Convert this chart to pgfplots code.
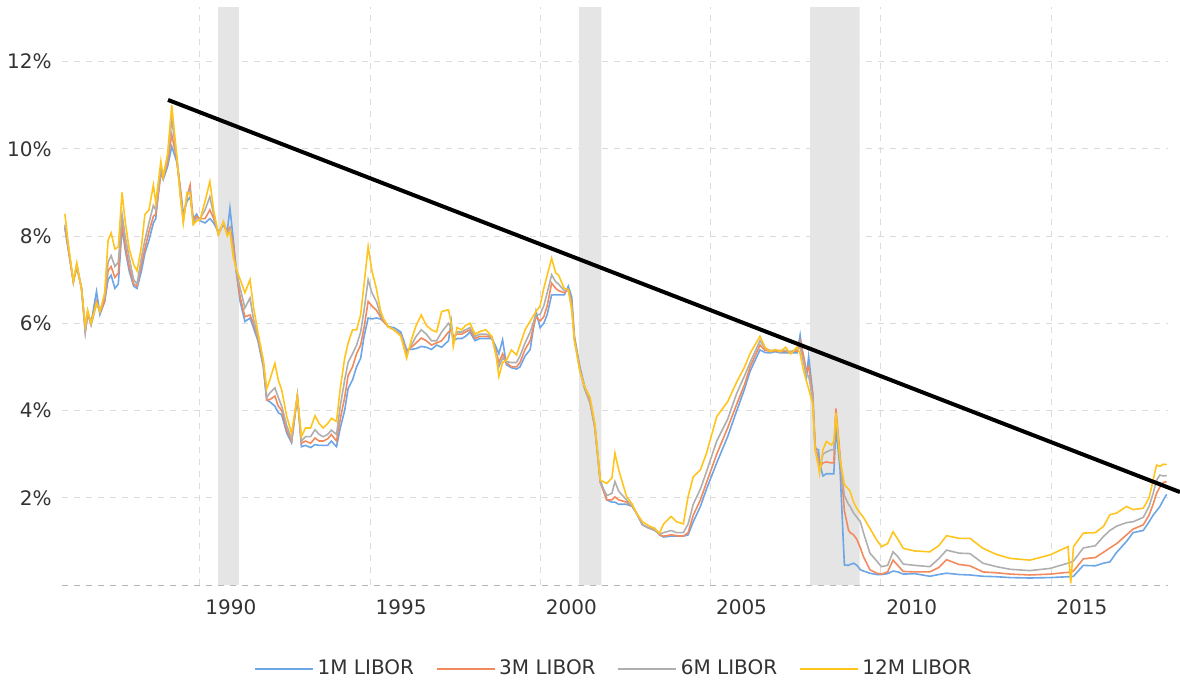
\documentclass[border=0pt]{standalone}
\usepackage{fontspec}
\setmainfont{DejaVu Sans}
\usepackage{pgfplots}
\usepackage{pgfplotstable}
\pgfplotsset{compat=1.18}
\definecolor{cA}{HTML}{6CA6E6}
\definecolor{cB}{HTML}{F28A5E}
\definecolor{cC}{HTML}{AFAFAF}
\definecolor{cD}{HTML}{FFC51E}
\definecolor{txt}{HTML}{333333}
\pgfplotstableread{
yr m1 m3 m6 m12
1986.03 8.2 8.2 8.26 8.51
1986.15 7.6 7.6 7.65 7.7
1986.28 6.95 6.95 6.95 6.96
1986.38 7.3 7.3 7.35 7.38
1986.52 6.8 6.8 6.8 6.77
1986.63 5.85 5.8 5.8 5.95
1986.70 6.25 6.2 6.25 6.3
1986.80 6.0 6.0 5.95 6.0
1986.96 6.73 6.5 6.45 6.46
1987.06 6.2 6.25 6.27 6.27
1987.20 6.5 6.5 6.6 6.7
1987.30 7.0 7.2 7.4 7.9
1987.39 7.1 7.3 7.55 8.07
1987.50 6.8 7.05 7.3 7.7
1987.60 6.9 7.15 7.4 7.75
1987.71 8.2 8.3 8.5 9.0
1987.80 7.7 7.8 8.0 8.35
1987.92 7.2 7.3 7.5 7.7
1988.05 6.85 6.9 7.0 7.35
1988.15 6.8 6.85 6.9 7.2
1988.28 7.2 7.35 7.5 7.76
1988.38 7.6 7.7 7.9 8.49
1988.50 7.9 8.1 8.3 8.6
1988.63 8.3 8.45 8.7 9.17
1988.70 8.4 8.5 8.6 8.76
1988.85 9.56 9.4 9.5 9.71
1988.92 9.3 9.35 9.4 9.35
1989.05 9.6 9.7 9.8 9.9
1989.17 10.05 10.32 10.67 11.0
1989.32 9.7 9.75 9.8 9.82
1989.42 9.1 9.1 9.0 8.9
1989.51 8.5 8.4 8.35 8.3
1989.62 8.8 8.9 8.95 9.0
1989.71 8.9 9.17 9.05 8.98
1989.80 8.4 8.35 8.3 8.26
1989.90 8.5 8.45 8.4 8.35
1990.00 8.35 8.4 8.4 8.37
1990.15 8.3 8.4 8.6 8.8
1990.29 8.4 8.6 8.9 9.25
1990.40 8.3 8.4 8.5 8.6
1990.54 8.1 8.05 8.03 8.03
1990.69 8.25 8.3 8.3 8.33
1990.80 8.1 8.1 8.05 8.0
1990.88 8.64 8.2 8.15 8.1
1990.98 7.9 7.8 7.6 7.5
1991.08 7.1 7.1 7.15 7.22
1991.18 6.5 6.6 6.8 7.0
1991.32 6.04 6.15 6.35 6.7
1991.47 6.12 6.19 6.58 7.0
1991.57 5.9 6.0 6.1 6.38
1991.70 5.6 5.65 5.7 5.8
1991.86 5.0 5.05 5.1 5.16
1991.96 4.24 4.24 4.3 4.5
1992.05 4.2 4.25 4.4 4.7
1992.20 4.1 4.33 4.52 5.08
1992.30 3.95 4.1 4.3 4.7
1992.40 3.9 4.0 4.1 4.47
1992.55 3.48 3.55 3.65 3.86
1992.69 3.26 3.3 3.35 3.48
1992.86 4.33 4.33 4.33 4.33
1992.98 3.17 3.25 3.3 3.4
1993.10 3.2 3.3 3.4 3.6
1993.25 3.15 3.25 3.4 3.6
1993.38 3.22 3.37 3.56 3.88
1993.50 3.2 3.3 3.45 3.7
1993.62 3.2 3.3 3.4 3.6
1993.75 3.2 3.35 3.45 3.7
1993.86 3.3 3.45 3.55 3.82
1994.01 3.17 3.3 3.45 3.75
1994.12 3.6 3.8 4.1 4.5
1994.25 4.0 4.3 4.7 5.2
1994.35 4.5 4.8 5.1 5.54
1994.48 4.7 5.0 5.3 5.85
1994.60 5.0 5.3 5.5 5.85
1994.72 5.2 5.5 5.8 6.2
1994.82 5.7 5.9 6.3 6.9
1994.94 6.12 6.5 7.0 7.76
1995.05 6.1 6.4 6.7 7.2
1995.18 6.12 6.3 6.5 6.8
1995.30 6.1 6.15 6.2 6.3
1995.38 6.05 6.05 6.1 6.12
1995.53 5.92 5.92 5.92 5.92
1995.70 5.9 5.85 5.85 5.85
1995.90 5.8 5.75 5.75 5.7
1996.07 5.4 5.35 5.3 5.2
1996.21 5.4 5.45 5.5 5.62
1996.35 5.42 5.55 5.7 5.95
1996.50 5.47 5.66 5.85 6.19
1996.65 5.45 5.6 5.75 5.95
1996.80 5.4 5.5 5.6 5.85
1996.95 5.5 5.55 5.6 5.8
1997.10 5.45 5.6 5.8 6.27
1997.30 5.6 5.8 6.0 6.31
1997.38 6.04 5.85 5.9 6.0
1997.44 5.6 5.7 5.6 5.47
1997.55 5.65 5.75 5.8 5.9
1997.69 5.65 5.75 5.8 5.85
1997.80 5.7 5.8 5.85 5.95
1997.93 5.8 5.85 5.9 6.0
1998.08 5.6 5.65 5.7 5.75
1998.22 5.65 5.7 5.75 5.81
1998.40 5.65 5.7 5.75 5.85
1998.57 5.65 5.68 5.7 5.7
1998.70 5.45 5.35 5.3 5.24
1998.78 5.3 5.1 5.0 4.78
1998.89 5.62 5.3 5.2 5.1
1999.00 5.05 5.1 5.12 5.15
1999.15 4.98 5.0 5.1 5.39
1999.30 4.95 5.0 5.1 5.27
1999.40 5.0 5.1 5.25 5.5
1999.55 5.25 5.4 5.55 5.85
1999.70 5.4 5.6 5.8 6.05
1999.87 6.27 6.15 6.2 6.27
1999.99 5.9 6.05 6.2 6.4
2000.10 6.0 6.15 6.4 6.8
2000.20 6.2 6.4 6.7 7.1
2000.33 6.65 6.92 7.11 7.49
2000.45 6.65 6.8 6.95 7.15
2000.53 6.65 6.75 6.9 7.11
2000.70 6.65 6.7 6.75 6.8
2000.82 6.85 6.77 6.77 6.77
2000.92 6.6 6.5 6.4 6.3
2001.00 5.7 5.65 5.62 5.6
2001.16 5.0 4.95 4.93 4.9
2001.30 4.55 4.5 4.5 4.55
2001.46 4.2 4.17 4.2 4.3
2001.60 3.65 3.6 3.6 3.7
2001.76 2.4 2.35 2.35 2.4
2001.95 1.95 1.95 2.05 2.33
2002.10 1.9 1.95 2.1 2.45
2002.19 1.9 2.02 2.37 3.02
2002.30 1.85 1.95 2.15 2.64
2002.53 1.85 1.9 1.95 2.03
2002.70 1.8 1.8 1.8 1.85
2002.82 1.65 1.65 1.65 1.65
2003.00 1.38 1.38 1.38 1.45
2003.20 1.3 1.3 1.3 1.35
2003.35 1.3 1.28 1.25 1.3
2003.50 1.15 1.15 1.17 1.19
2003.62 1.1 1.12 1.2 1.4
2003.84 1.12 1.15 1.25 1.57
2004.00 1.12 1.13 1.2 1.45
2004.20 1.12 1.12 1.2 1.4
2004.34 1.15 1.2 1.4 2.03
2004.49 1.45 1.6 1.85 2.48
2004.70 1.8 1.95 2.2 2.64
2004.88 2.2 2.35 2.6 3.02
2005.18 2.8 3.0 3.3 3.86
2005.50 3.4 3.6 3.8 4.2
2005.77 4.0 4.15 4.4 4.66
2006.00 4.5 4.6 4.8 5.0
2006.16 4.9 5.0 5.1 5.31
2006.45 5.39 5.5 5.6 5.7
2006.60 5.33 5.38 5.42 5.45
2006.75 5.32 5.36 5.38 5.35
2006.90 5.35 5.36 5.38 5.4
2007.05 5.32 5.35 5.38 5.35
2007.20 5.32 5.35 5.38 5.45
2007.35 5.32 5.35 5.35 5.3
2007.54 5.32 5.36 5.4 5.45
2007.63 5.73 5.6 5.45 5.3
2007.72 5.2 5.3 5.15 4.95
2007.82 4.78 4.9 4.8 4.66
2007.88 5.24 5.0 4.8 4.5
2008.00 4.4 4.35 4.25 4.15
2008.07 3.13 3.2 3.15 3.1
2008.17 3.1 2.9 2.8 2.71
2008.20 2.8 2.7 2.65 2.56
2008.30 2.5 2.8 3.0 3.1
2008.40 2.55 2.82 3.05 3.29
2008.55 2.55 2.8 3.1 3.21
2008.62 2.55 2.8 3.1 3.3
2008.68 3.6 4.05 3.9 3.95
2008.80 2.7 3.0 2.9 2.9
2008.93 0.46 1.7 2.05 2.3
2009.05 0.45 1.26 1.85 2.2
2009.10 0.47 1.2 1.8 2.14
2009.20 0.5 1.15 1.65 1.9
2009.30 0.45 1.04 1.55 1.75
2009.40 0.35 0.85 1.45 1.64
2009.49 0.32 0.65 1.2 1.55
2009.68 0.27 0.35 0.73 1.3
2009.88 0.24 0.27 0.55 1.03
2010.02 0.24 0.25 0.42 0.88
2010.20 0.26 0.3 0.45 0.95
2010.36 0.32 0.57 0.76 1.22
2010.50 0.3 0.45 0.65 1.05
2010.66 0.25 0.31 0.48 0.84
2011.00 0.26 0.3 0.45 0.78
2011.44 0.2 0.3 0.42 0.76
2011.70 0.24 0.4 0.6 0.9
2011.93 0.27 0.58 0.8 1.13
2012.30 0.24 0.47 0.73 1.07
2012.62 0.23 0.44 0.72 1.07
2013.00 0.2 0.3 0.5 0.84
2013.40 0.19 0.28 0.42 0.7
2013.80 0.17 0.25 0.36 0.61
2014.38 0.16 0.23 0.33 0.57
2014.97 0.17 0.25 0.38 0.69
2015.50 0.19 0.29 0.5 0.88
2015.58 0.19 0.3 0.52 0.04
2015.66 0.2 0.32 0.55 0.88
2015.95 0.45 0.6 0.85 1.19
2016.30 0.44 0.63 0.9 1.2
2016.54 0.5 0.75 1.11 1.34
2016.73 0.53 0.85 1.25 1.61
2016.93 0.75 0.95 1.35 1.65
2017.22 1.0 1.15 1.43 1.8
2017.41 1.2 1.28 1.45 1.73
2017.71 1.25 1.38 1.55 1.76
2017.88 1.45 1.6 1.8 2.0
2018.00 1.6 1.85 2.1 2.4
2018.10 1.7 2.1 2.4 2.75
2018.20 1.8 2.25 2.52 2.72
2018.30 1.95 2.35 2.5 2.77
2018.40 2.08 2.37 2.51 2.76
}\libor
\begin{document}
\fontsize{10}{12}\selectfont
\begin{tikzpicture}
\path[use as bounding box] (-31pt,-48pt) rectangle (559pt,292.5pt);
\begin{axis}[
  at={(0,0)}, anchor=south west,
  width=553pt, height=289pt, scale only axis,
  xmin=1985.946, xmax=2018.437, ymin=0, ymax=13.25,
  clip=false,
  axis line style={draw=none},
  major tick length=0pt,
  xtick={1990,1995,2000,2005,2010,2015},
  xticklabels={1990,1995,2000,2005,2010,2015},
  ytick={2,4,6,8,10,12},
  yticklabels={2\%,4\%,6\%,8\%,10\%,12\%},
  extra y ticks={0}, extra y tick labels={},
  extra y tick style={grid style={gray!60, dash pattern=on 3pt off 3pt, line width=0.5pt}},
  grid=major,
  grid style={gray!28, dash pattern=on 3pt off 3pt, line width=0.5pt},
  tick label style={font=\fontsize{10}{12}\selectfont, text=txt},
  xticklabel style={anchor=north west, xshift=-0.8pt, yshift=-3.7pt},
  yticklabel style={anchor=east, xshift=-1.7pt},
  legend columns=4,
  legend style={draw=none, fill=none, at={(0.5,-0.1453)}, anchor=center,
    font=\fontsize{10}{12}\selectfont, text=txt,
    /tikz/every even column/.append style={column sep=9pt}},
  legend image code/.code={\draw[#1, line width=0.6pt] (0pt,0pt) -- (29pt,0pt);},
]
\addplot[fill=gray!20, draw=none, forget plot] coordinates {(1990.53,0) (1990.53,13.25) (1991.14,13.25) (1991.14,0)} \closedcycle;
\addplot[fill=gray!20, draw=none, forget plot] coordinates {(2001.14,0) (2001.14,13.25) (2001.79,13.25) (2001.79,0)} \closedcycle;
\addplot[fill=gray!20, draw=none, forget plot] coordinates {(2007.92,0) (2007.92,13.25) (2009.38,13.25) (2009.38,0)} \closedcycle;
\addplot[cA, line width=0.8pt] table[x=yr, y=m1] {\libor};
\addlegendentry{1M LIBOR}
\addplot[cB, line width=0.8pt] table[x=yr, y=m3] {\libor};
\addlegendentry{3M LIBOR}
\addplot[cC, line width=0.8pt] table[x=yr, y=m6] {\libor};
\addlegendentry{6M LIBOR}
\addplot[cD, line width=0.8pt] table[x=yr, y=m12] {\libor};
\addlegendentry{12M LIBOR}
\addplot[black, line width=2pt, forget plot] coordinates {(1989.06,11.12) (2018.79,2.13)};
\end{axis}
\end{tikzpicture}
\end{document}
